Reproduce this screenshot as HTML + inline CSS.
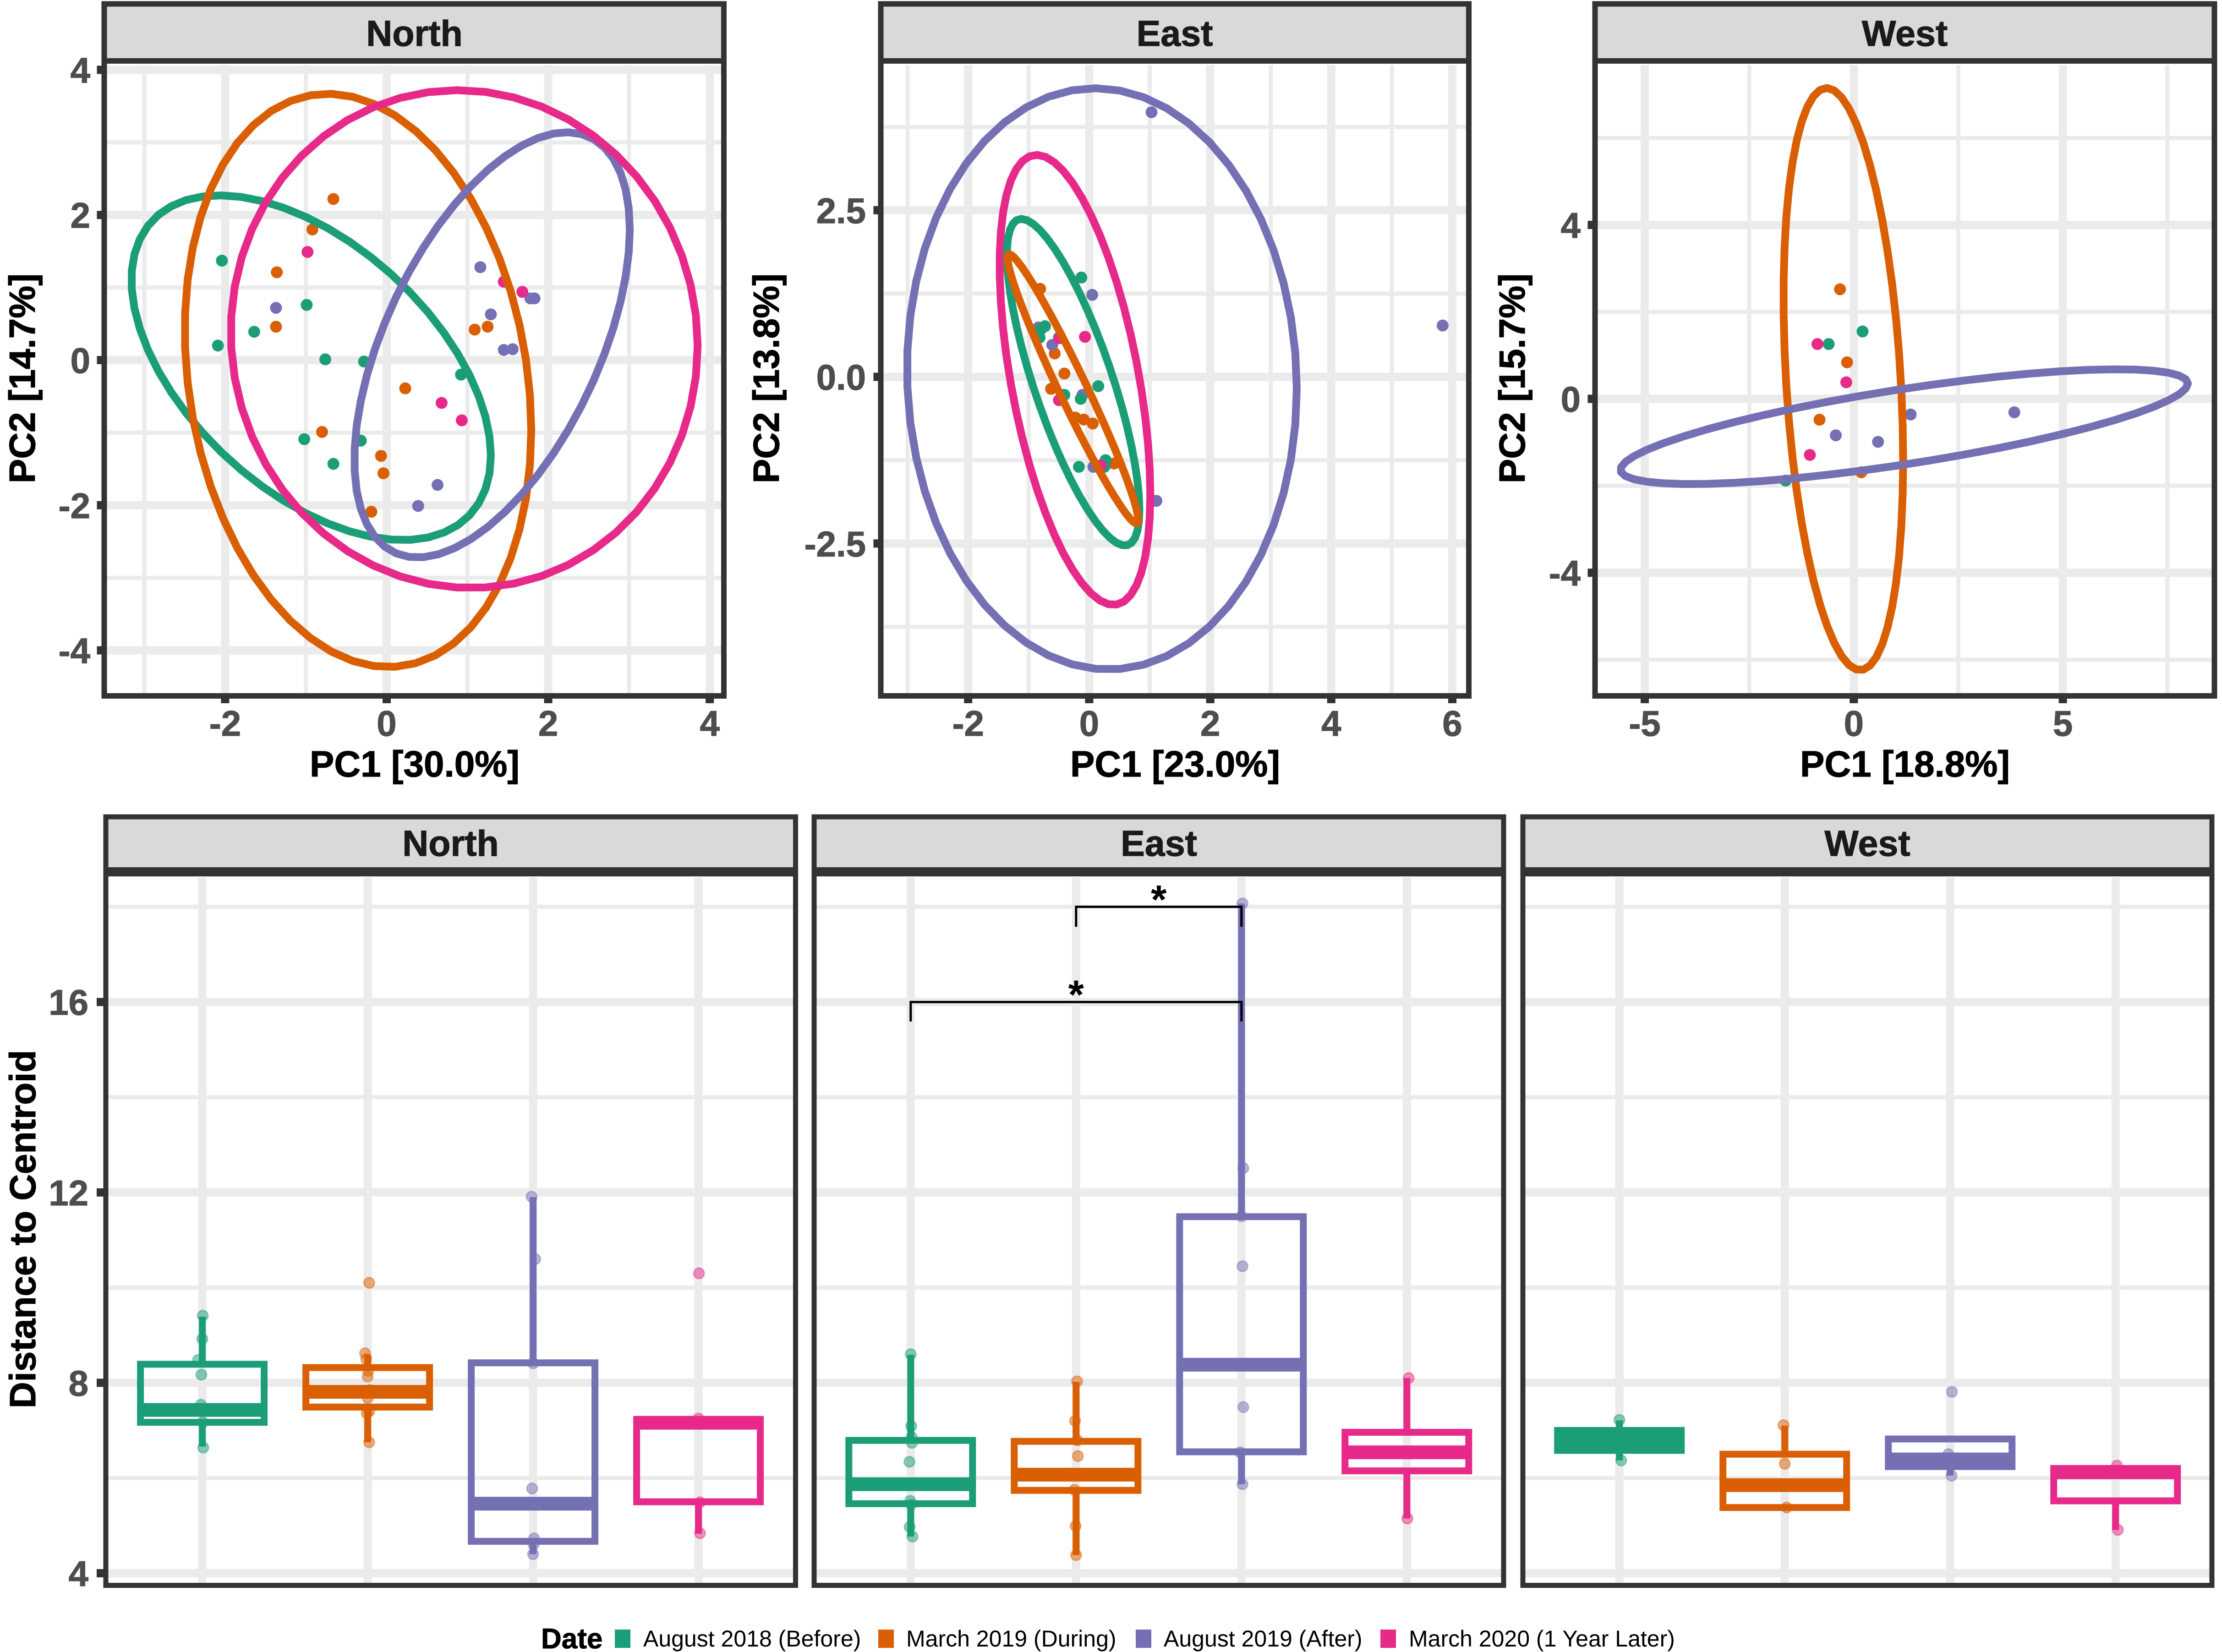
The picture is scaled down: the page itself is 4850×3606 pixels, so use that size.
<!DOCTYPE html>
<html lang="en">
<head>
<meta charset="utf-8">
<title>PCA and distance to centroid by site</title>
<style>
html,body{margin:0;padding:0;background:#fff;}
svg{display:block;}
text{font-family:"Liberation Sans",Arial,sans-serif;}
.strip-text{font-size:79px;font-weight:700;fill:#1a1a1a;stroke:#1a1a1a;stroke-width:1.2;text-anchor:middle;}
.axis-title{font-size:80px;font-weight:700;fill:#000;stroke:#000;stroke-width:1.2;text-anchor:middle;}
.legend-text{font-size:50px;fill:#000;}
.frame{fill:none;stroke:#333;stroke-width:12;}
.frame-low{fill:none;stroke:#333;stroke-width:11;}
</style>
</head>
<body>
<svg id="chart" xmlns="http://www.w3.org/2000/svg" width="4850" height="3606" viewBox="0 0 4850 3606">
  <rect x="0" y="0" width="4850" height="3606" fill="#fff"/>
  <g id="marks"></g>

  <g>
    <rect class="frame" x="227.5" y="8.5" width="1352.5" height="124.5" style="fill:#d9d9d9"/>
    <rect class="frame" x="1922.5" y="8.5" width="1283.5" height="124.5" style="fill:#d9d9d9"/>
    <rect class="frame" x="3481.5" y="8.5" width="1352" height="124.5" style="fill:#d9d9d9"/>
    <text class="strip-text" x="904.5" y="100">North</text>
    <text class="strip-text" x="2564" y="100">East</text>
    <text class="strip-text" x="4157.5" y="100">West</text>
    <rect class="frame" x="227.5" y="133" width="1352.5" height="1386"/>
    <rect class="frame" x="1922.5" y="133" width="1283.5" height="1386"/>
    <rect class="frame" x="3481.5" y="133" width="1352" height="1386"/>
  </g>

  <g>
    <text class="axis-title" x="905" y="1695">PC1 [30.0%]</text>
    <text class="axis-title" x="2565" y="1695">PC1 [23.0%]</text>
    <text class="axis-title" x="4158" y="1695">PC1 [18.8%]</text>
    <text class="axis-title" transform="translate(76,826) rotate(-90)">PC2 [14.7%]</text>
    <text class="axis-title" transform="translate(1700,826) rotate(-90)">PC2 [13.8%]</text>
    <text class="axis-title" transform="translate(3328,826) rotate(-90)">PC2 [15.7%]</text>
  </g>

  <g>
    <rect class="frame-low" x="231" y="1783" width="1505.5" height="119" style="fill:#d9d9d9"/>
    <rect class="frame-low" x="1777" y="1783" width="1505" height="119" style="fill:#d9d9d9"/>
    <rect class="frame-low" x="3324" y="1783" width="1504" height="119" style="fill:#d9d9d9"/>
    <text class="strip-text" x="983.5" y="1868">North</text>
    <text class="strip-text" x="2529.5" y="1868">East</text>
    <text class="strip-text" x="4076" y="1868">West</text>
    <path d="M226 1903H1741M1772 1903H3287M3319 1903H4833" stroke="#333" stroke-width="20" fill="none"/>
    <rect class="frame-low" x="231" y="1902" width="1505.5" height="1558.5"/>
    <rect class="frame-low" x="1777" y="1902" width="1505" height="1558.5"/>
    <rect class="frame-low" x="3324" y="1902" width="1504" height="1558.5"/>
  </g>

  <text class="axis-title" transform="translate(77,2683) rotate(-90)">Distance to Centroid</text>

  <g>
    <text x="1181" y="3598" font-size="62" font-weight="700" fill="#000" stroke="#000" stroke-width="1">Date</text>
    <rect x="1342" y="3557" width="34" height="40" fill="#1b9e77"/>
    <text class="legend-text" x="1404" y="3594">August 2018 (Before)</text>
    <rect x="1917" y="3557" width="34" height="40" fill="#d95f02"/>
    <text class="legend-text" x="1978" y="3594">March 2019 (During)</text>
    <rect x="2479" y="3557" width="34" height="40" fill="#7570b3"/>
    <text class="legend-text" x="2540" y="3594">August 2019 (After)</text>
    <rect x="3013" y="3557" width="34" height="40" fill="#e7298a"/>
    <text class="legend-text" x="3075" y="3594">March 2020 (1 Year Later)</text>
  </g>
</svg>

<script>
// ---------- shared ----------
const seriesNames = ['august-2018', 'march-2019', 'august-2019', 'march-2020'];
const seriesColors = ['#1b9e77', '#d95f02', '#7570b3', '#e7298a'];

// ---------- PCA data (series order: Aug 2018, Mar 2019, Aug 2019, Mar 2020) ----------
const northPc1 = [
  [-2.04, -0.99, -1.64, -2.09, -0.76, -0.28, 0.92, -1.02, -0.32, -0.66],
  [-0.66, -0.92, -1.36, -1.37, 0.23, -0.80, -0.07, -0.04, -0.19, 1.09, 1.25],
  [-1.37, 1.16, 1.29, 1.78, 1.83, 1.45, 1.56, 0.63, 0.39],
  [-0.98, 1.45, 1.68, 0.68, 0.93]
];
const northPc2 = [
  [1.37, 0.76, 0.39, 0.20, 0.01, -0.02, -0.20, -1.09, -1.11, -1.43],
  [2.22, 1.80, 1.21, 0.46, -0.39, -0.99, -1.32, -1.56, -2.09, 0.42, 0.46],
  [0.72, 1.28, 0.63, 0.85, 0.85, 0.14, 0.15, -1.72, -2.01],
  [1.49, 1.08, 0.94, -0.59, -0.83]
];
const eastPc1 = [
  [-0.13, -0.73, -0.80, -0.82, -0.50, 0.15, -0.41, -0.14, -0.17, 0.27, 0.25],
  [-0.81, -0.90, -0.57, -0.41, -0.63, -0.23, -0.09, 0.06, 0.41],
  [0.05, 1.03, 5.84, 1.11, -0.61, -0.11, -0.84, 0.07],
  [-0.07, -0.49, -0.50, 0.19]
];
const eastPc2 = [
  [1.49, 0.76, 0.71, 0.59, 0.59, -0.14, -0.27, -0.33, -1.35, -1.25, -1.35],
  [1.32, 0.66, 0.35, 0.05, -0.18, -0.61, -0.64, -0.70, -1.30],
  [1.23, 3.97, 0.77, -1.86, 0.48, -0.27, 0.74, -1.35],
  [0.60, 0.58, -0.35, -1.33]
];
const westPc1 = [
  [0.21, -0.60, -1.63],
  [-0.33, -0.16, -0.82, 0.18],
  [-0.43, 0.58, 1.36, 3.84],
  [-0.87, -0.18, -1.05]
];
const westPc2 = [
  [1.55, 1.26, -1.88],
  [2.52, 0.84, -0.48, -1.69],
  [-0.84, -0.99, -0.36, -0.31],
  [1.26, 0.38, -1.29]
];

// Ellipse extents in PC units (null = no ellipse for that series)
const northEllipseXMin = [-3.16, -2.50, -0.40, -1.93];
const northEllipseXMax = [1.29, 1.79, 3.01, 3.85];
const northEllipseYMin = [-2.48, -4.23, -2.72, -3.14];
const northEllipseYMax = [2.27, 3.67, 3.14, 3.72];
const northEllipseXAtTop = [-2.07, -0.73, 2.23, 0.88];

const eastEllipseXMin = [-1.36, -1.35, -3.01, -1.48];
const eastEllipseXMax = [0.83, 0.81, 3.43, 1.01];
const eastEllipseYMin = [-2.53, -2.20, -4.39, -3.42];
const eastEllipseYMax = [2.37, 1.84, 4.33, 3.33];
const eastEllipseXAtTop = [-1.12, -1.32, 0.10, -0.87];

const westEllipseXMin = [null, -1.68, -5.58, null];
const westEllipseXMax = [null, 1.18, 7.99, null];
const westEllipseYMin = [null, -6.24, -1.96, null];
const westEllipseYMax = [null, 7.15, 0.68, null];
const westEllipseXAtTop = [null, -0.65, 6.30, null];

// Axis ticks
const northXTicks = [-2, 0, 2, 4];
const northXMinor = [-3, -1, 1, 3];
const northYTicks = [-4, -2, 0, 2, 4];
const northYMinor = [-3, -1, 1, 3];
const northXTickLabels = ['-2', '0', '2', '4'];
const northYTickLabels = ['-4', '-2', '0', '2', '4'];

const eastXTicks = [-2, 0, 2, 4, 6];
const eastXMinor = [-3, -1, 1, 3, 5];
const eastYTicks = [-2.5, 0, 2.5];
const eastYMinor = [-3.75, -1.25, 1.25, 3.75];
const eastXTickLabels = ['-2', '0', '2', '4', '6'];
const eastYTickLabels = ['-2.5', '0.0', '2.5'];

const westXTicks = [-5, 0, 5];
const westXMinor = [-2.5, 2.5, 7.5];
const westYTicks = [-4, 0, 4];
const westYMinor = [-6, -2, 2, 6];
const westXTickLabels = ['-5', '0', '5'];
const westYTickLabels = ['-4', '0', '4'];

// ---------- Distance to centroid data ----------
const distanceYTicks = [4, 8, 12, 16];
const distanceYMinor = [6, 10, 14, 18];
const distanceYTickLabels = ['4', '8', '12', '16'];
const distanceCategories = [1, 2, 3, 4];

const northQ1 = [7.17, 7.49, 4.67, 5.50];
const northMedian = [7.43, 7.81, 5.46, 7.16];
const northQ3 = [8.39, 8.32, 8.42, 7.23];
const northWhiskerLow = [6.66, 6.75, 4.40, 4.83];
const northWhiskerHigh = [9.39, 8.59, 11.90, 7.23];

const eastQ1 = [5.46, 5.74, 6.55, 6.15];
const eastMedian = [5.87, 6.07, 8.38, 6.54];
const eastQ3 = [6.79, 6.77, 11.49, 6.96];
const eastWhiskerLow = [4.77, 4.38, 5.87, 5.15];
const eastWhiskerHigh = [8.59, 8.02, 18.07, 8.10];

const westQ1 = [6.58, 5.38, 6.24, 5.52];
const westMedian = [6.79, 5.85, 6.39, 6.12];
const westQ3 = [7.00, 6.50, 6.82, 6.20];
const westWhiskerLow = [6.37, 5.38, 6.05, 4.91];
const westWhiskerHigh = [7.21, 7.10, 6.82, 6.20];

const northJitterCat = [
  [1.003, 1, 0.975, 0.994, 0.991, 1.003, 1.006],
  [2.009, 1.984, 1.991, 2.003, 2, 2.013, 2, 2.009, 1.994, 2.009],
  [2.991, 3.013, 3, 2.994, 3.006, 3.003, 3],
  [4.003, 4, 4.009, 4.009]
];
const northJitterValue = [
  [9.41, 8.92, 8.48, 8.17, 7.54, 7.17, 6.64],
  [10.10, 8.62, 8.50, 8.25, 8.13, 7.85, 7.68, 7.40, 7.36, 6.75],
  [11.91, 10.60, 8.41, 5.78, 4.73, 4.60, 4.40],
  [10.30, 7.25, 5.49, 4.84]
];
const eastJitterCat = [
  [1, 1.003, 1.006, 1.008, 0.992, 0.997, 1.003, 0.994, 1.011],
  [2.006, 1.994, 2.008, 2.011, 1.989, 1.997, 2],
  [3.006, 3.011, 3, 3.006, 3.011, 2.992, 3.006],
  [4.011, 4.011, 4.003]
];
const eastJitterValue = [
  [8.60, 7.09, 6.86, 6.74, 6.34, 5.52, 5.44, 4.97, 4.77],
  [8.03, 7.20, 6.79, 6.46, 5.75, 4.99, 4.38],
  [18.07, 12.51, 11.50, 10.45, 7.49, 6.54, 5.87],
  [8.10, 6.54, 5.15]
];
const westJitterCat = [
  [1, 1.011],
  [1.992, 2, 2.011],
  [3.011, 2.989, 3.008],
  [4.008, 4.014]
];
const westJitterValue = [
  [7.22, 6.37],
  [7.11, 6.30, 5.38],
  [7.81, 6.50, 6.05],
  [6.26, 4.91]
];

const bracketFromCat = [2, 1];
const bracketToCat = [3, 3];
const bracketValue = [18.0, 16.0];
const bracketTipValue = [17.58, 15.59];
const bracketLabels = ['*', '*'];

// ---------- drawing helpers ----------
const SVG_NS = 'http://www.w3.org/2000/svg';
const marksRoot = document.getElementById('marks');

function make(tag, attrs, parent) {
  const node = document.createElementNS(SVG_NS, tag);
  Object.keys(attrs).forEach(function (k) { node.setAttribute(k, attrs[k]); });
  parent.appendChild(node);
  return node;
}

const GRID = '#ebebeb';
const TICK_TEXT = '#4d4d4d';

function addClip(id, x, y, w, h) {
  const clip = make('clipPath', { id: id }, marksRoot);
  make('rect', { x: x, y: y, width: w, height: h }, clip);
}

function drawGridLine(parent, vertical, pos, major, L, T, R, B) {
  const line = make('line', vertical
    ? { x1: pos, x2: pos, y1: T, y2: B, stroke: GRID, 'stroke-width': major ? 18 : 9 }
    : { x1: L, x2: R, y1: pos, y2: pos, stroke: GRID, 'stroke-width': major ? 18 : 9 }, parent);
  
  
}

function drawYTick(y, value, labelRight, frameLeft, tickLength, parent) {
  const tick = make('rect', { x: frameLeft - tickLength, y: y - 9, width: tickLength, height: 18, fill: '#333' }, parent);
  
  
  const label = make('text', { x: labelRight, y: y + 28, 'font-size': 78, 'font-weight': 700, fill: TICK_TEXT, stroke: TICK_TEXT, 'stroke-width': 1.2, 'text-anchor': 'end' }, parent);
  label.textContent = value;
  
  
}

// ---------- PCA panels ----------
function ellipsePoints(xmin, xmax, ymin, ymax, xTop, sx, sy) {
  const cx = (xmin + xmax) / 2, cy = (ymin + ymax) / 2;
  const a = (xmax - xmin) / 2, b = (ymax - ymin) / 2;
  const phi = Math.acos(Math.max(-1, Math.min(1, (xTop - cx) / a)));
  const pts = [];
  const steps = 51;
  for (let i = 0; i < steps; i++) {
    const t = 2 * Math.PI * i / steps;
    pts.push(sx(cx + a * Math.cos(t)).toFixed(1) + ',' + sy(cy + b * Math.cos(t - phi)).toFixed(1));
  }
  return pts.join(' ');
}

function drawPcaPanel(cfg) {
  const sx = function (v) { return cfg.x0 + cfg.xUnit * v; };
  const sy = function (v) { return cfg.y0 - cfg.yUnit * v; };
  const clipId = 'clip-' + cfg.key + '-pca';
  addClip(clipId, cfg.left + 6, cfg.top + 9, cfg.right - cfg.left - 12, cfg.bottom - cfg.top - 15);

  const group = make('g', {}, marksRoot);
  
  
  const plot = make('g', { 'clip-path': 'url(#' + clipId + ')' }, group);
  
  

  const L = cfg.left, R = cfg.right, T = cfg.top, B = cfg.bottom;
  cfg.xMinor.forEach(function (v) { drawGridLine(plot, true, sx(v), false, L, T, R, B); });
  cfg.yMinor.forEach(function (v) { drawGridLine(plot, false, sy(v), false, L, T, R, B); });
  cfg.xTicks.forEach(function (v) { drawGridLine(plot, true, sx(v), true, L, T, R, B); });
  cfg.yTicks.forEach(function (v) { drawGridLine(plot, false, sy(v), true, L, T, R, B); });

  [1, 2, 0, 3].forEach(function (s) {
    cfg.pc1[s].forEach(function (v, i) {
      const dot = make('circle', { cx: sx(v), cy: sy(cfg.pc2[s][i]), r: 13, fill: seriesColors[s] }, plot);
      
      
    });
  });

  cfg.ellipseOrder.forEach(function (s) {
    if (cfg.xMin[s] === null) return;
    const ring = make('polygon', {
      points: ellipsePoints(cfg.xMin[s], cfg.xMax[s], cfg.yMin[s], cfg.yMax[s], cfg.xTop[s], sx, sy),
      fill: 'none', stroke: seriesColors[s], 'stroke-width': 17, 'stroke-linejoin': 'round'
    }, plot);
    
    
  });

  cfg.xTicks.forEach(function (v, i) {
    const tick = make('rect', { x: sx(v) - 9, y: cfg.bottom, width: 18, height: 16, fill: '#333' }, group);
    
    
    const label = make('text', { x: sx(v), y: 1606, 'font-size': 78, 'font-weight': 700, fill: TICK_TEXT, stroke: TICK_TEXT, 'stroke-width': 1.2, 'text-anchor': 'middle' }, group);
    label.textContent = cfg.xLabels[i];
    
    
  });
  cfg.yTicks.forEach(function (v, i) {
    drawYTick(sy(v), cfg.yLabels[i], cfg.labelRight, cfg.left, 16, group);
  });
}

const sharedTop = { top: 133, bottom: 1519 };
drawPcaPanel(Object.assign({
  key: 'north', x0: 844, xUnit: 176.3, y0: 786, yUnit: 158.4, left: 227.5, right: 1580, labelRight: 197,
  xTicks: northXTicks, xMinor: northXMinor, yTicks: northYTicks, yMinor: northYMinor,
  xLabels: northXTickLabels, yLabels: northYTickLabels, pc1: northPc1, pc2: northPc2,
  xMin: northEllipseXMin, xMax: northEllipseXMax, yMin: northEllipseYMin, yMax: northEllipseYMax, xTop: northEllipseXAtTop,
  ellipseOrder: [0, 1, 2, 3]
}, sharedTop));
drawPcaPanel(Object.assign({
  key: 'east', x0: 2377.4, xUnit: 132.1, y0: 822.6, yUnit: 145.5, left: 1922.5, right: 3206, labelRight: 1890,
  xTicks: eastXTicks, xMinor: eastXMinor, yTicks: eastYTicks, yMinor: eastYMinor,
  xLabels: eastXTickLabels, yLabels: eastYTickLabels, pc1: eastPc1, pc2: eastPc2,
  xMin: eastEllipseXMin, xMax: eastEllipseXMax, yMin: eastEllipseYMin, yMax: eastEllipseYMax, xTop: eastEllipseXAtTop,
  ellipseOrder: [2, 3, 0, 1]
}, sharedTop));
drawPcaPanel(Object.assign({
  key: 'west', x0: 4046.3, xUnit: 91.26, y0: 870.6, yUnit: 94.9, left: 3481.5, right: 4833.5, labelRight: 3450,
  xTicks: westXTicks, xMinor: westXMinor, yTicks: westYTicks, yMinor: westYMinor,
  xLabels: westXTickLabels, yLabels: westYTickLabels, pc1: westPc1, pc2: westPc2,
  xMin: westEllipseXMin, xMax: westEllipseXMax, yMin: westEllipseYMin, yMax: westEllipseYMax, xTop: westEllipseXAtTop,
  ellipseOrder: [1, 2]
}, sharedTop));

// ---------- Distance panels ----------
const distanceY = function (v) { return 3434 - (v - 4) * 103.9; };
const BOX_WIDTH = 270;

function drawDistancePanel(cfg) {
  const catX = function (c) { return cfg.firstCat + (c - 1) * 361; };
  const clipId = 'clip-' + cfg.key + '-distance';
  addClip(clipId, cfg.left + 5, 1915, cfg.right - cfg.left - 10, 3456 - 1915);

  const group = make('g', {}, marksRoot);
  
  
  const plot = make('g', { 'clip-path': 'url(#' + clipId + ')' }, group);
  
  

  distanceYMinor.forEach(function (v) { drawGridLine(plot, false, distanceY(v), false, cfg.left, 1912, cfg.right, 3456); });
  distanceYTicks.forEach(function (v) { drawGridLine(plot, false, distanceY(v), true, cfg.left, 1912, cfg.right, 3456); });
  distanceCategories.forEach(function (c) { drawGridLine(plot, true, catX(c), true, cfg.left, 1912, cfg.right, 3456); });

  distanceCategories.forEach(function (c, s) {
    cfg.jitterCat[s].forEach(function (pos, i) {
      const dot = make('circle', {
        cx: catX(pos), cy: distanceY(cfg.jitterValue[s][i]), r: 11.5,
        fill: seriesColors[s], 'fill-opacity': 0.5, stroke: seriesColors[s], 'stroke-opacity': 0.45, 'stroke-width': 3
      }, plot);
      
      
    });
  });

  distanceCategories.forEach(function (c, s) {
    const x = catX(c);
    const color = seriesColors[s];
    const whiskerTop = make('line', { x1: x, x2: x, y1: distanceY(cfg.q3[s]), y2: distanceY(cfg.high[s]), stroke: color, 'stroke-width': 15 }, plot);
    
    
    const whiskerLow = make('line', { x1: x, x2: x, y1: distanceY(cfg.q1[s]), y2: distanceY(cfg.low[s]), stroke: color, 'stroke-width': 15 }, plot);
    
    
    const box = make('rect', {
      x: x - BOX_WIDTH / 2, y: distanceY(cfg.q3[s]), width: BOX_WIDTH,
      height: distanceY(cfg.q1[s]) - distanceY(cfg.q3[s]),
      fill: 'none', stroke: color, 'stroke-width': 15
    }, plot);
    
    
    const median = make('line', {
      x1: x - BOX_WIDTH / 2, x2: x + BOX_WIDTH / 2,
      y1: distanceY(cfg.median[s]), y2: distanceY(cfg.median[s]), stroke: color, 'stroke-width': 30
    }, plot);
    
    
  });

  if (cfg.brackets) {
    bracketFromCat.forEach(function (from, i) {
      const x1 = catX(from), x2 = catX(bracketToCat[i]);
      const yLine = distanceY(bracketValue[i]), yTip = distanceY(bracketTipValue[i]);
      const path = make('path', {
        d: 'M' + x1 + ' ' + yTip + 'V' + yLine + 'H' + x2 + 'V' + yTip,
        fill: 'none', stroke: '#000', 'stroke-width': 5
      }, group);
      
      
      const star = make('text', {
        x: (x1 + x2) / 2, y: yLine + 14, 'font-size': 88, 'font-weight': 700, 'text-anchor': 'middle', fill: '#000'
      }, group);
      star.textContent = bracketLabels[i];
      
      
    });
  }
}

drawDistancePanel({
  key: 'north', firstCat: 441.6, left: 231, right: 1736.5,
  q1: northQ1, median: northMedian, q3: northQ3, low: northWhiskerLow, high: northWhiskerHigh,
  jitterCat: northJitterCat, jitterValue: northJitterValue
});
drawDistancePanel({
  key: 'east', firstCat: 1987.8, left: 1777, right: 3282, brackets: true,
  q1: eastQ1, median: eastMedian, q3: eastQ3, low: eastWhiskerLow, high: eastWhiskerHigh,
  jitterCat: eastJitterCat, jitterValue: eastJitterValue
});
drawDistancePanel({
  key: 'west', firstCat: 3534.7, left: 3324, right: 4828,
  q1: westQ1, median: westMedian, q3: westQ3, low: westWhiskerLow, high: westWhiskerHigh,
  jitterCat: westJitterCat, jitterValue: westJitterValue
});

const distanceAxis = make('g', {}, marksRoot);


distanceYTicks.forEach(function (v, i) {
  drawYTick(distanceY(v), distanceYTickLabels[i], 193, 231, 20, distanceAxis);
});
</script>
</body>
</html>
